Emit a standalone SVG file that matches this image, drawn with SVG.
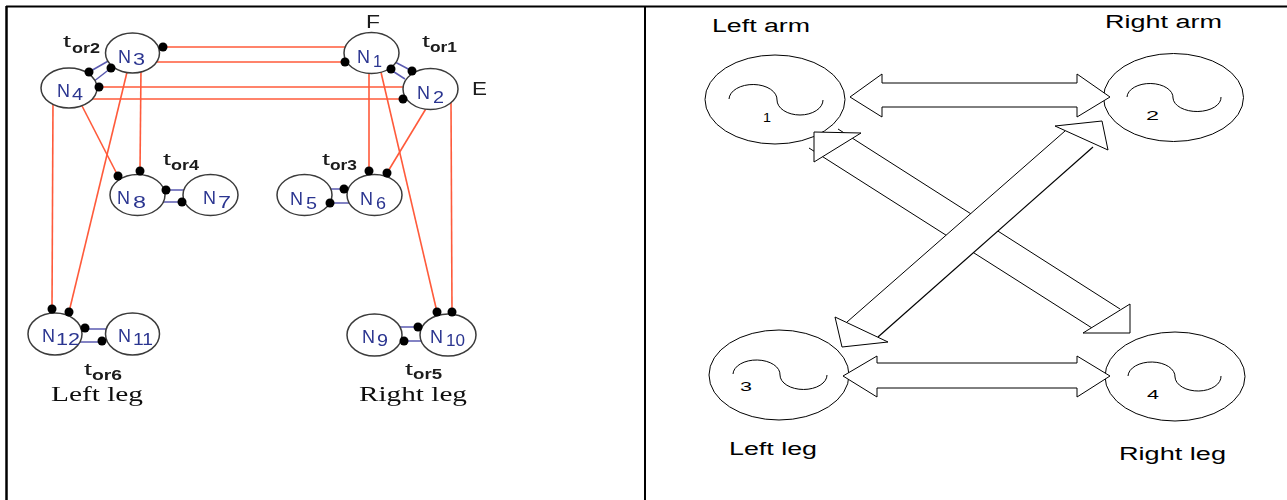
<svg xmlns="http://www.w3.org/2000/svg" width="1287" height="500" viewBox="0 0 1287 500">
  <defs>
    <filter id="soft" x="-5%" y="-5%" width="110%" height="110%">
      <feGaussianBlur stdDeviation="0.35"/>
    </filter>
  </defs>
  <style>
    .frame { stroke: #000; stroke-width: 2; fill: none; }
    .wire { stroke: #ff5a3a; stroke-width: 1.6; fill: none; }
    .tor { stroke: #5a5ab0; stroke-width: 1.5; fill: none; }
    .nd { fill: #fff; stroke: #3a3a3a; stroke-width: 1.5; }
    .dot { fill: #000; }
    .nlab { font-family: "Liberation Sans", Arial, sans-serif; font-size: 18px; fill: #2b3590; }
    .nsub { font-family: "Liberation Sans", Arial, sans-serif; font-size: 16px; fill: #2b3590; }
    .tlab { font-family: "Liberation Sans", Arial, sans-serif; font-size: 17px; fill: #1a1a1a; }
    .tsub { font-family: "Liberation Sans", Arial, sans-serif; font-size: 15px; font-weight: bold; fill: #1a1a1a; }
    .serif { font-family: "Liberation Serif", "Times New Roman", serif; font-size: 21px; fill: #111; }
    .lbl { font-family: "Liberation Sans", Arial, sans-serif; font-size: 18px; fill: #000; }
    .num { font-family: "Liberation Sans", Arial, sans-serif; font-size: 13px; fill: #000; }
    .body { fill: #fff; stroke: #000; stroke-width: 1; }
    .wave { fill: none; stroke: #000; stroke-width: 1; }
    .arw { fill: #fff; stroke: #000; stroke-width: 1; stroke-linejoin: miter; }
    .edge { fill: none; stroke: #000; stroke-width: 1; }
    .fillonly { fill: #fff; stroke: none; }
  </style>

  <!-- table frame -->
  <g id="frame">
    <line class="frame" x1="6" y1="6.5" x2="1287" y2="6.5"/>
    <line class="frame" x1="6.5" y1="6" x2="6.5" y2="500" style="stroke-width:2.5"/>
    <line class="frame" x1="645" y1="6" x2="645" y2="500"/>
  </g>

  <!-- ===== left panel: sensor network ===== -->
  <g id="left-panel" filter="url(#soft)">
  <g id="left-connectors">
    <!-- long horizontal wires between the arm groups -->
    <line class="wire" x1="163" y1="47" x2="350" y2="47"/>
    <line class="wire" x1="150" y1="62" x2="345" y2="62"/>
    <line class="wire" x1="99" y1="87" x2="410" y2="87"/>
    <line class="wire" x1="88" y1="99" x2="403" y2="99"/>
    <!-- wires down to the torso / legs -->
    <line class="wire" x1="53" y1="100" x2="52" y2="309"/>
    <line class="wire" x1="128" y1="68" x2="69" y2="312"/>
    <line class="wire" x1="80" y1="102" x2="118" y2="176"/>
    <line class="wire" x1="141" y1="68" x2="140" y2="171"/>
    <line class="wire" x1="369" y1="68" x2="369" y2="171"/>
    <line class="wire" x1="380" y1="68" x2="437" y2="312"/>
    <line class="wire" x1="430" y1="102" x2="387" y2="173"/>
    <line class="wire" x1="451" y1="102" x2="452" y2="312"/>
    <!-- torsion links -->
    <line class="tor" x1="89" y1="72" x2="110" y2="60"/>
    <line class="tor" x1="93" y1="82" x2="111" y2="68"/>
    <line class="tor" x1="395" y1="62" x2="412" y2="71"/>
    <line class="tor" x1="391" y1="70" x2="405" y2="79"/>
    <line class="tor" x1="166" y1="190" x2="186" y2="190"/>
    <line class="tor" x1="162" y1="202" x2="182" y2="202"/>
    <line class="tor" x1="328" y1="189" x2="344" y2="189"/>
    <line class="tor" x1="330" y1="203" x2="350" y2="203"/>
    <line class="tor" x1="85" y1="329" x2="108" y2="329"/>
    <line class="tor" x1="80" y1="342" x2="102" y2="342"/>
    <line class="tor" x1="399" y1="327" x2="418" y2="327"/>
    <line class="tor" x1="404" y1="341" x2="423" y2="341"/>
  </g>

  <g id="N1"><ellipse class="nd" cx="371.5" cy="53" rx="27.5" ry="20.5"/>
    <text class="nlab" x="357" y="63">N</text><text class="nsub" x="373" y="67" textLength="9" lengthAdjust="spacingAndGlyphs">1</text></g>
  <g id="N2"><ellipse class="nd" cx="430.5" cy="89" rx="27.5" ry="20.5"/>
    <text class="nlab" x="417" y="99">N</text><text class="nsub" x="433" y="103" textLength="11" lengthAdjust="spacingAndGlyphs">2</text></g>
  <g id="N3"><ellipse class="nd" cx="132.5" cy="53" rx="27" ry="20"/>
    <text class="nlab" x="118" y="63">N</text><text class="nsub" x="133" y="65" textLength="12" lengthAdjust="spacingAndGlyphs">3</text></g>
  <g id="N4"><ellipse class="nd" cx="69" cy="88" rx="28" ry="20"/>
    <text class="nlab" x="57" y="97">N</text><text class="nsub" x="72" y="100" textLength="11" lengthAdjust="spacingAndGlyphs">4</text></g>
  <g id="N5"><ellipse class="nd" cx="304.5" cy="195" rx="27.5" ry="20.5"/>
    <text class="nlab" x="290" y="205">N</text><text class="nsub" x="306" y="209" textLength="11" lengthAdjust="spacingAndGlyphs">5</text></g>
  <g id="N6"><ellipse class="nd" cx="374.5" cy="195" rx="27.5" ry="20.5"/>
    <text class="nlab" x="360" y="205">N</text><text class="nsub" x="376" y="209" textLength="10" lengthAdjust="spacingAndGlyphs">6</text></g>
  <g id="N7"><ellipse class="nd" cx="210.5" cy="195" rx="27.5" ry="20.5"/>
    <text class="nlab" x="203" y="204">N</text><text class="nsub" x="218" y="208" textLength="13" lengthAdjust="spacingAndGlyphs">7</text></g>
  <g id="N8"><ellipse class="nd" cx="137.5" cy="195" rx="27.5" ry="20.5"/>
    <text class="nlab" x="117" y="204">N</text><text class="nsub" x="133" y="208" textLength="13" lengthAdjust="spacingAndGlyphs">8</text></g>
  <g id="N9"><ellipse class="nd" cx="374.5" cy="335" rx="27.5" ry="21"/>
    <text class="nlab" x="362" y="343">N</text><text class="nsub" x="377" y="346" textLength="11" lengthAdjust="spacingAndGlyphs">9</text></g>
  <g id="N10"><ellipse class="nd" cx="448" cy="335" rx="28" ry="21"/>
    <text class="nlab" x="430" y="343">N</text><text class="nsub" x="446" y="346" textLength="19" lengthAdjust="spacingAndGlyphs">10</text></g>
  <g id="N11"><ellipse class="nd" cx="132.5" cy="334" rx="27" ry="21"/>
    <text class="nlab" x="118" y="342">N</text><text class="nsub" x="133" y="345" textLength="20" lengthAdjust="spacingAndGlyphs">11</text></g>
  <g id="N12"><ellipse class="nd" cx="55" cy="334" rx="27" ry="21"/>
    <text class="nlab" x="42" y="342">N</text><text class="nsub" x="56" y="345" textLength="24" lengthAdjust="spacingAndGlyphs">12</text></g>

  <!-- wire terminals -->
  <g id="terminals">
    <circle class="dot" cx="163" cy="47" r="4.5"/>
    <circle class="dot" cx="345" cy="62" r="4.5"/>
    <circle class="dot" cx="99" cy="87" r="4.5"/>
    <circle class="dot" cx="403" cy="99" r="4.5"/>
    <circle class="dot" cx="52" cy="309" r="4.5"/>
    <circle class="dot" cx="69" cy="312" r="4.5"/>
    <circle class="dot" cx="118" cy="176" r="4.5"/>
    <circle class="dot" cx="140" cy="171" r="4.5"/>
    <circle class="dot" cx="369" cy="171" r="4.5"/>
    <circle class="dot" cx="387" cy="173" r="4.5"/>
    <circle class="dot" cx="437" cy="312" r="4.5"/>
    <circle class="dot" cx="452" cy="312" r="4.5"/>
    <circle class="dot" cx="89" cy="72" r="4.5"/>
    <circle class="dot" cx="111" cy="68" r="4.5"/>
    <circle class="dot" cx="391" cy="69" r="4.5"/>
    <circle class="dot" cx="412" cy="71" r="4.5"/>
    <circle class="dot" cx="166" cy="190" r="4.5"/>
    <circle class="dot" cx="182" cy="202" r="4.5"/>
    <circle class="dot" cx="344" cy="189" r="4.5"/>
    <circle class="dot" cx="330" cy="203" r="4.5"/>
    <circle class="dot" cx="85" cy="328" r="4.5"/>
    <circle class="dot" cx="102" cy="341" r="4.5"/>
    <circle class="dot" cx="418" cy="327" r="4.5"/>
    <circle class="dot" cx="404" cy="341" r="4.5"/>
  </g>

  <!-- torsion labels and limb captions -->
  <g id="left-labels">
    <text class="tlab" x="63" y="47" textLength="8" lengthAdjust="spacingAndGlyphs">t</text>
    <text class="tsub" x="72" y="53" textLength="28" lengthAdjust="spacingAndGlyphs">or2</text>
    <text class="tlab" x="422" y="47" textLength="8" lengthAdjust="spacingAndGlyphs">t</text>
    <text class="tsub" x="430" y="52" textLength="27" lengthAdjust="spacingAndGlyphs">or1</text>
    <text class="tlab" x="163" y="165" textLength="8" lengthAdjust="spacingAndGlyphs">t</text>
    <text class="tsub" x="171" y="170" textLength="28" lengthAdjust="spacingAndGlyphs">or4</text>
    <text class="tlab" x="322" y="165" textLength="8" lengthAdjust="spacingAndGlyphs">t</text>
    <text class="tsub" x="330" y="170" textLength="27" lengthAdjust="spacingAndGlyphs">or3</text>
    <text class="tlab" x="84" y="375" textLength="8" lengthAdjust="spacingAndGlyphs">t</text>
    <text class="tsub" x="92" y="380" textLength="30" lengthAdjust="spacingAndGlyphs">or6</text>
    <text class="tlab" x="405" y="375" textLength="8" lengthAdjust="spacingAndGlyphs">t</text>
    <text class="tsub" x="413" y="379" textLength="29" lengthAdjust="spacingAndGlyphs">or5</text>
    <text class="lbl" x="366" y="28" textLength="14" lengthAdjust="spacingAndGlyphs" style="fill:#1a1a1a">F</text>
    <text class="lbl" x="472" y="95" textLength="15" lengthAdjust="spacingAndGlyphs" style="fill:#1a1a1a">E</text>
    <text class="serif" x="51" y="401" textLength="92" lengthAdjust="spacingAndGlyphs">Left leg</text>
    <text class="serif" x="359" y="401" textLength="108" lengthAdjust="spacingAndGlyphs">Right leg</text>
  </g>
  </g>

  <!-- ===== right panel: four limb sources ===== -->
  <g id="limb-1">
    <ellipse class="body" cx="775" cy="99.5" rx="70" ry="44.5"/>
    <path class="wave" d="M729,99 A24,15 0 0 1 777,100 A23,15 0 0 0 823,100"/>
    <text class="num" x="763" y="122" textLength="8" lengthAdjust="spacingAndGlyphs">1</text>
    <text class="lbl" x="712" y="32" textLength="98" lengthAdjust="spacingAndGlyphs">Left arm</text>
  </g>
  <g id="limb-2">
    <ellipse class="body" cx="1173.5" cy="97.5" rx="70" ry="44"/>
    <path class="wave" d="M1127,97 A23,14 0 0 1 1173,98 A24,14 0 0 0 1221,97"/>
    <text class="num" x="1146" y="120" textLength="13" lengthAdjust="spacingAndGlyphs">2</text>
    <text class="lbl" x="1105" y="28" textLength="117" lengthAdjust="spacingAndGlyphs">Right arm</text>
  </g>
  <g id="limb-3">
    <ellipse class="body" cx="779" cy="375" rx="70" ry="45"/>
    <path class="wave" d="M733,374 A23.5,14.5 0 0 1 780,375 A23.5,14.5 0 0 0 827,375"/>
    <text class="num" x="740" y="391" textLength="12" lengthAdjust="spacingAndGlyphs">3</text>
    <text class="lbl" x="729" y="455" textLength="88" lengthAdjust="spacingAndGlyphs">Left leg</text>
  </g>
  <g id="limb-4">
    <ellipse class="body" cx="1175" cy="376.5" rx="70" ry="44.5"/>
    <path class="wave" d="M1128,376 A23.5,14.5 0 0 1 1175,377 A23,14.5 0 0 0 1221,376"/>
    <text class="num" x="1147" y="399" textLength="12" lengthAdjust="spacingAndGlyphs">4</text>
    <text class="lbl" x="1119" y="460" textLength="107" lengthAdjust="spacingAndGlyphs">Right leg</text>
  </g>

  <!-- double-headed block arrows between the limbs -->
  <g id="right-connectors">
    <!-- 1 <-> 2 -->
    <polygon class="arw" points="850,97 882,74 882,83 1077,83 1077,74 1110,97 1077,117 1077,107 882,107 882,117"/>
    <!-- 3 <-> 4 -->
    <polygon class="arw" points="843,376 877,356 877,363 1077,363 1077,356 1110,376 1077,397 1077,388 877,388 877,397"/>
    <!-- 1 <-> 4 diagonal -->
    <polygon class="fillonly" points="852,138 1120,309 1092,328 823,157"/>
    <line class="edge" x1="838" y1="129" x2="1120" y2="309"/>
    <line class="edge" x1="809" y1="148" x2="1092" y2="328"/>
    <polygon class="arw" points="814,132 861,133 814,162"/>
    <polygon class="arw" points="1130,333 1130,304 1083,333"/>
    <!-- 2 <-> 3 diagonal, drawn over 1 <-> 4 -->
    <polygon class="fillonly" points="847,322 1065,131 1093,147 878,337"/>
    <line class="edge" x1="847" y1="322" x2="1065" y2="131"/>
    <line class="edge" x1="878" y1="337" x2="1093" y2="147" style="stroke-width:1.2"/>
    <polygon class="arw" points="1102,121 1055,126 1108,150"/>
    <polygon class="arw" points="842,347 835,317 888,342"/>
  </g>
</svg>
